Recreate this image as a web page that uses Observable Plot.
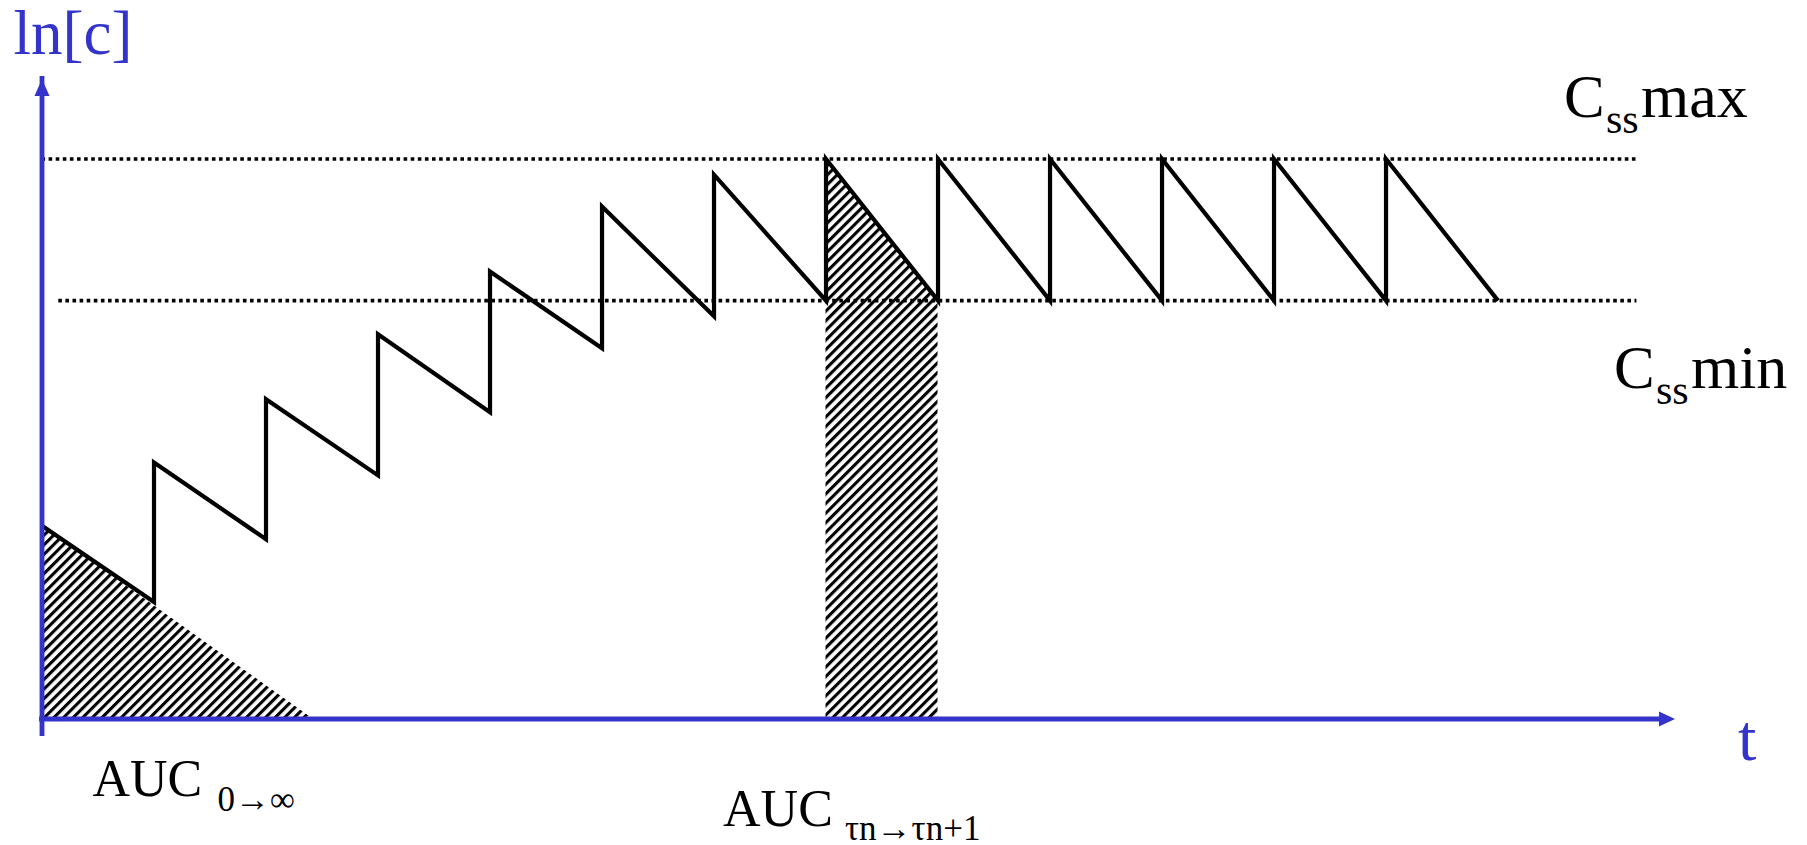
<!DOCTYPE html>
<html>
<head>
<meta charset="utf-8">
<script src="https://cdn.jsdelivr.net/npm/d3@7"></script>
<script src="https://cdn.jsdelivr.net/npm/@observablehq/plot@0.6"></script>
<style>
  html, body { margin: 0; padding: 0; background: #fff; overflow: hidden; }
  svg { display: block; }
</style>
</head>
<body>
<div id="chart"></div>
<script>
// ---- Data (t in dosing intervals, ln[c] in arbitrary units) ----
const doseTimes = [0, 1, 2, 3, 4, 5, 6, 7, 8, 9, 10, 11, 12];
const peakLnC   = [3.45, 4.58, 5.71, 6.87, 7.99, 9.15, 9.72, 10, 10, 10, 10, 10, 10];
const troughLnC = [2.09, 3.21, 4.35, 5.48, 6.62, 7.19, 7.47, 7.47, 7.47, 7.47, 7.47, 7.47, 7.47];
const tau = 1;
const cssMax = 10.0;
const cssMin = 7.47;
const cssMaxStart = 0;
const cssMinStart = 0.15;
const cssLineEnd = 14.24;
const aucZeroTime = 2.42;      // single dose extrapolated to zero
const aucDoseIndex = 7;        // dosing interval that is shaded
const axisEndT = 14.58;
const axisEndLnC = 11.43;

// ---- Texts ----
const yTitle = "ln[c]";
const xTitle = "t";
const cLetter = "C";
const ssSub = "ss";
const maxWord = "max";
const minWord = "min";
const aucWord = "AUC";
const aucSingleSub = "0\u2192\u221e";
const aucIntervalSub = "\u03c4n\u2192\u03c4n+1";

// ---- Derived tables ----
const saw = doseTimes.flatMap((t, i) => [
  {t, c: peakLnC[i]},
  {t: t + tau, c: troughLnC[i]}
]);
const aucSingle = [{t: 0, c: peakLnC[0]}, {t: aucZeroTime, c: 0}];
const aucInterval = [
  {t: doseTimes[aucDoseIndex], c: peakLnC[aucDoseIndex]},
  {t: doseTimes[aucDoseIndex] + tau, c: troughLnC[aucDoseIndex]}
];

const blue = "#3434cc";
const serif = "'Liberation Serif', 'Times New Roman', serif";

function label(text, x, y, dx, dy, size, fill = "black") {
  return Plot.text([text], {
    x: () => x, y: () => y, text: d => d,
    dx, dy, fontSize: size, fontFamily: serif, fill,
    textAnchor: "start", lineAnchor: "bottom"
  });
}

const arrowUp = {draw(ctx) { ctx.moveTo(0, 0); ctx.lineTo(-7.5, 17); ctx.lineTo(7.5, 17); ctx.closePath(); }};
const arrowRight = {draw(ctx) { ctx.moveTo(0, 0); ctx.lineTo(-16, -7.5); ctx.lineTo(-16, 7.5); ctx.closePath(); }};

const svg = Plot.plot({
  width: 1807,
  height: 845,
  marginLeft: 41.5,
  marginRight: 0,
  marginTop: 0,
  marginBottom: 126.5,
  x: {domain: [0, 15.763], axis: null},
  y: {domain: [0, 12.83], axis: null},
  style: {background: "white", overflow: "visible"},
  marks: [
    Plot.areaY(aucSingle, {x: "t", y1: () => 0, y2: "c", fill: "url(#hatch)"}),
    Plot.areaY(aucInterval, {x: "t", y1: () => 0, y2: "c", fill: "url(#hatch)"}),
    Plot.ruleY([cssMax], {x1: () => cssMaxStart, x2: () => cssLineEnd, stroke: "black", strokeWidth: 3.6, strokeDasharray: "3.6 3.5"}),
    Plot.ruleY([cssMin], {x1: () => cssMinStart, x2: () => cssLineEnd, stroke: "black", strokeWidth: 3.6, strokeDasharray: "3.6 3.5"}),
    Plot.line(saw, {x: "t", y: "c", stroke: "black", strokeWidth: 4.2, strokeLinejoin: "miter", strokeLinecap: "butt", strokeMiterlimit: 6}),
    Plot.ruleX([0], {y1: () => 0, y2: () => axisEndLnC, stroke: blue, strokeWidth: 4.8, insetTop: 15, strokeLinecap: "square"}),
    Plot.ruleY([0], {x1: () => 0, x2: () => axisEndT, stroke: blue, strokeWidth: 4.8, insetRight: 14, strokeLinecap: "square"}),
    Plot.dot([0], {x: () => 0, y: () => axisEndLnC, symbol: arrowUp, fill: blue, stroke: "none"}),
    Plot.dot([0], {x: () => axisEndT, y: () => 0, symbol: arrowRight, fill: blue, stroke: "none"}),
    // axis titles
    label(yTitle, 0, axisEndLnC, -28.5, -25, 63, blue),
    label(xTitle, axisEndT, 0, 63, 40.5, 66, blue),
    // Css max
    label(cLetter, cssLineEnd, cssMax, -73, -41.5, 61),
    label(ssSub, cssLineEnd, cssMax, -31, -25.5, 42),
    label(maxWord, cssLineEnd, cssMax, 4, -41.5, 62),
    // Css min
    label(cLetter, cssLineEnd, cssMin, -23, 87, 61),
    label(ssSub, cssLineEnd, cssMin, 19, 103, 42),
    label(minWord, cssLineEnd, cssMin, 54, 87, 62),
    // AUC labels
    label(aucWord, 0, 0, 50.5, 76.5, 52),
    label(aucSingleSub, 0, 0, 175.5, 91.5, 35),
    label(aucWord, doseTimes[aucDoseIndex], 0, -103, 106.5, 52),
    label(aucIntervalSub, doseTimes[aucDoseIndex], 0, 19, 120.5, 35)
  ]
});

d3.select(svg).insert("defs", ":first-child").html(
  `<pattern id="hatch" width="6.8" height="6.8" patternUnits="userSpaceOnUse" patternTransform="rotate(-45)">
     <rect width="6.8" height="6.8" fill="white"/>
     <rect width="6.8" height="3.1" fill="black"/>
   </pattern>`
);

document.getElementById("chart").appendChild(svg);
</script>
</body>
</html>
